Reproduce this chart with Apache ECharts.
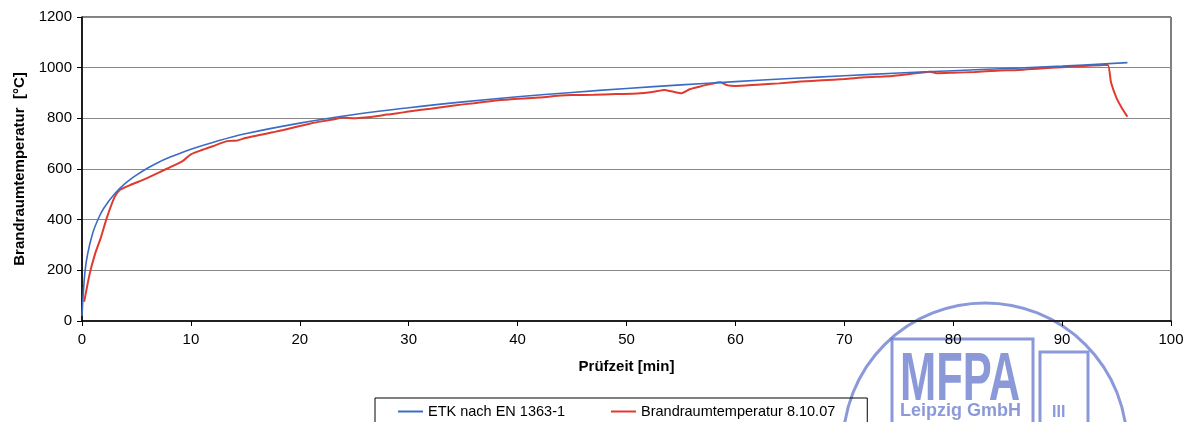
<!DOCTYPE html>
<html lang="de">
<head>
<meta charset="UTF-8">
<title>Brandraumtemperatur</title>
<script src="https://cdn.jsdelivr.net/npm/echarts@6/dist/echarts.min.js"></script>
<style>
  html, body { margin: 0; padding: 0; background: #fff; }
  #chart { width: 1201px; height: 422px; }
</style>
</head>
<body>
<div id="chart"></div>
<script>
// ETK nach EN 1363-1, [min, °C]
const etkTime = [0, 0.25, 0.5, 1, 1.5, 2, 3, 4, 5, 6, 7, 8, 10, 12, 15, 20, 25, 30, 35, 40, 45, 50, 55, 60, 65, 70, 75, 80, 85, 90, 96];
const etkTemp = [20, 185, 261, 349, 404, 445, 502, 544, 576, 603, 626, 645, 678, 705, 739, 781, 815, 842, 865, 885, 902, 918, 932, 945, 957, 968, 979, 988, 997, 1006, 1020];

// Brandraumtemperatur 8.10.07 (measured)
const fireTime = [0.2, 0.7, 1.2, 1.7, 2.3, 3.0, 3.5, 4.5, 5.5, 6.5, 7.5, 8.5, 9.3, 10, 11, 12, 13.3, 14.2, 15, 16.3, 17.5, 18.5, 20, 21, 22, 23, 24, 25, 26, 27, 28, 29, 30, 32, 34, 36, 38, 40, 42, 44, 45, 47, 49, 51, 52.5, 53.5, 54.5, 55, 55.8, 56.7, 57.8, 58.6, 59.3, 60, 62, 64, 66, 68, 70, 72, 74, 76, 77.9, 78.5, 80, 82, 84, 86, 88, 90, 92, 93.5, 94.2, 94.5, 95, 95.5, 96];
const fireTemp = [76, 185, 265, 325, 410, 490, 518, 538, 555, 575, 595, 615, 633, 658, 675, 690, 710, 712, 722, 734, 745, 754, 770, 780, 788, 795, 803, 800, 803, 808, 815, 820, 827, 838, 850, 860, 870, 877, 882, 890, 892, 893, 896, 898, 905, 912, 903, 899, 915, 925, 936, 942, 930, 928, 933, 938, 945, 950, 955, 962, 966, 975, 984, 978, 980, 983, 988, 991, 997, 1002, 1007, 1010, 1011, 940, 880, 840, 806];

const yTicks = [0, 200, 400, 600, 800, 1000, 1200];

const stampColor = '#6677cc';

const chart = echarts.init(document.getElementById('chart'));
chart.setOption({
  animation: false,
  backgroundColor: '#fff',
  textStyle: { fontFamily: 'Liberation Sans, Arial, sans-serif' },
  grid: {
    left: 82, right: 30, top: 17, bottom: 101,
    show: true, borderColor: '#000', borderWidth: 1
  },
  xAxis: {
    type: 'value', min: 0, max: 100, interval: 10,
    name: 'Prüfzeit [min]', nameLocation: 'middle', nameGap: 38,
    nameTextStyle: { fontSize: 15, fontWeight: 'bold', color: '#000' },
    axisLine: { lineStyle: { color: '#000', width: 1.5 } },
    axisTick: { show: true, length: 5, lineStyle: { color: '#000' } },
    axisLabel: { fontSize: 15, color: '#000', margin: 11 },
    splitLine: { show: false }
  },
  yAxis: {
    type: 'value', min: yTicks[0], max: yTicks[yTicks.length - 1], interval: 200,
    name: 'Brandraumtemperatur  [°C]', nameLocation: 'middle', nameGap: 55,
    nameTextStyle: { fontSize: 15, fontWeight: 'bold', color: '#000' },
    axisLine: { show: true, lineStyle: { color: '#000', width: 1.5 } },
    axisTick: { show: true, length: 5, lineStyle: { color: '#000' } },
    axisLabel: { fontSize: 15, color: '#000', margin: 10, formatter: v => String(v) },
    splitLine: { show: true, lineStyle: { color: '#888', width: 1.2 } }
  },
  legend: {
    left: 375, top: 398,
    padding: [6, 32, 6, 23],
    borderColor: '#000', borderWidth: 1, borderRadius: 0,
    itemWidth: 25, itemHeight: 2, itemGap: 46,
    icon: 'rect',
    textStyle: { fontSize: 14.5, color: '#000' },
    data: ['ETK nach EN 1363-1', 'Brandraumtemperatur 8.10.07']
  },
  series: [
    {
      name: 'ETK nach EN 1363-1',
      type: 'line',
      smooth: 0.4,
      showSymbol: false,
      data: etkTime.map((t, i) => [t, etkTemp[i]]),
      lineStyle: { color: '#3b6cc4', width: 1.6 },
      itemStyle: { color: '#3b6cc4' },
      z: 3
    },
    {
      name: 'Brandraumtemperatur 8.10.07',
      type: 'line',
      smooth: 0.2,
      showSymbol: false,
      data: fireTime.map((t, i) => [t, fireTemp[i]]),
      lineStyle: { color: '#e03a2e', width: 2 },
      itemStyle: { color: '#e03a2e' },
      z: 2
    }
  ],
  // stamp over the lower right corner
  graphic: [
    {
      type: 'group', z: 100, silent: true,
      children: [
        { type: 'circle', shape: { cx: 985, cy: 445, r: 142 },
          style: { fill: 'none', stroke: stampColor, lineWidth: 3, opacity: 0.75 } },
        { type: 'rect', shape: { x: 892, y: 339, width: 141, height: 100 },
          style: { fill: 'none', stroke: stampColor, lineWidth: 3, opacity: 0.75 } },
        { type: 'rect', shape: { x: 1040, y: 352, width: 48, height: 90 },
          style: { fill: 'none', stroke: stampColor, lineWidth: 3, opacity: 0.75 } },
        { type: 'text', x: 900, y: 347, scaleX: 0.64,
          style: { text: 'MFPA', font: 'bold 68px Liberation Sans', fill: stampColor, opacity: 0.75 } },
        { type: 'text', x: 900, y: 402,
          style: { text: 'Leipzig GmbH', font: 'bold 18px Liberation Sans', fill: stampColor, opacity: 0.75 } },
        { type: 'text', x: 1052, y: 405,
          style: { text: 'III', font: 'bold 16px Liberation Sans', fill: stampColor, opacity: 0.75 } }
      ]
    }
  ]
});
</script>
</body>
</html>
